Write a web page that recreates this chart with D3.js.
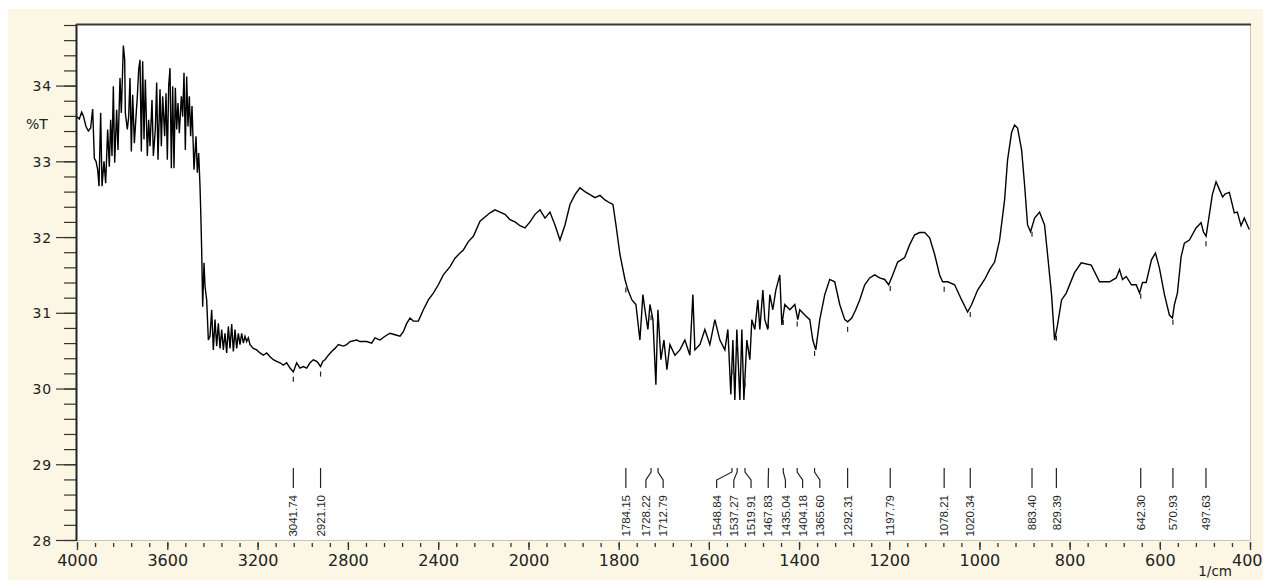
<!DOCTYPE html>
<html>
<head>
<meta charset="utf-8">
<script src="https://cdn.jsdelivr.net/npm/d3@7"></script>
<style>
  html, body { margin: 0; padding: 0; background: #ffffff; }
  svg { display: block; }
</style>
</head>
<body>
<svg id="chart" width="1263" height="580"></svg>
<script>
// ---- axis tick values ----
const xMajorTicks = [4000, 3600, 3200, 2800, 2400, 2000, 1800, 1600, 1400, 1200, 1000, 800, 600, 400];
const yMajorTicks = [28, 29, 30, 31, 32, 33, 34];

// ---- picked peaks (1/cm) ----
const peakWavenumbers = [3041.74, 2921.10, 1784.15, 1728.22, 1712.79, 1548.84, 1537.27, 1519.91,
  1467.83, 1435.04, 1404.18, 1365.60, 1292.31, 1197.79, 1078.21, 1020.34, 883.40, 829.39,
  642.30, 570.93, 497.63];

// ---- spectrum: [wavenumber (1/cm), transmittance (%T)] ----
const spectrumOH = [
  [4000, 33.59], [3989.7, 33.56], [3979.3, 33.65], [3971.9, 33.60], [3960.1, 33.46], [3949.8, 33.40],
  [3939.5, 33.44], [3930.6, 33.69], [3923.2, 33.04], [3915.8, 33.00], [3908.4, 32.89], [3902.5, 32.67],
  [3895.2, 33.64], [3889.2, 32.67], [3880.4, 33.00], [3873.0, 32.71], [3864.2, 33.42], [3856.8, 32.93],
  [3850.9, 33.55], [3845.0, 33.07], [3839.0, 33.99], [3833.1, 32.98], [3824.3, 33.68], [3818.4, 33.15],
  [3809.5, 34.10], [3803.6, 33.64], [3794.7, 34.53], [3788.8, 34.34], [3785.9, 33.64], [3777.0, 33.42],
  [3771.1, 33.59], [3765.2, 34.10], [3759.3, 33.13], [3753.4, 33.88], [3746.0, 33.24], [3738.6, 33.59],
  [3732.7, 33.86], [3726.8, 34.21], [3720.9, 34.34], [3715.0, 33.13], [3709.1, 34.32], [3703.2, 33.29],
  [3697.3, 34.08], [3688.4, 33.07], [3682.5, 33.55], [3676.6, 33.20], [3667.7, 33.81], [3661.8, 33.07],
  [3653.0, 33.42], [3647.1, 34.04], [3641.2, 33.02], [3632.3, 33.95], [3626.4, 33.20], [3620.5, 33.86],
  [3611.7, 33.33], [3605.7, 33.90], [3599.8, 33.02], [3593.9, 33.99], [3588.0, 34.23], [3582.1, 32.91],
  [3576.2, 33.99], [3570.3, 32.91], [3564.4, 33.97], [3558.5, 33.42], [3552.6, 33.77], [3546.7, 33.37],
  [3537.8, 33.86], [3531.9, 33.59], [3526.0, 34.17], [3520.1, 33.15], [3514.2, 34.12], [3508.3, 33.46],
  [3502.4, 33.86], [3496.5, 33.33], [3490.6, 33.73], [3481.7, 32.89], [3472.8, 33.33], [3466.9, 32.85],
  [3461.0, 33.11], [3455.1, 32.67], [3452.1, 32.36], [3447.7, 31.83], [3443.3, 31.08], [3437.4, 31.66],
  [3432.9, 31.35], [3425.6, 31.17], [3418.2, 30.64], [3410.8, 30.69], [3403.4, 31.04]
];

const spectrumCH = [
  [3396.1, 30.51], [3388.7, 30.91], [3381.3, 30.56], [3373.9, 30.86], [3366.5, 30.53], [3359.1, 30.78],
  [3351.7, 30.51], [3344.4, 30.73], [3337.0, 30.47], [3329.6, 30.82], [3322.2, 30.53], [3314.8, 30.85],
  [3307.4, 30.49], [3300.0, 30.78], [3292.7, 30.53], [3285.3, 30.73], [3277.9, 30.58], [3270.5, 30.73],
  [3263.1, 30.60], [3255.8, 30.69], [3248.5, 30.62], [3241.0, 30.67], [3233.6, 30.58], [3218.8, 30.53],
  [3204.1, 30.51], [3189.3, 30.47], [3174.5, 30.44], [3159.8, 30.47], [3145.0, 30.42], [3130.3, 30.38],
  [3115.5, 30.36], [3100.7, 30.34], [3086.0, 30.31], [3071.2, 30.34], [3056.4, 30.27], [3041.7, 30.22],
  [3026.9, 30.34], [3012.1, 30.27], [2997.4, 30.29], [2982.6, 30.27], [2967.8, 30.34], [2953.1, 30.38],
  [2938.3, 30.36], [2930.0, 30.33], [2921.1, 30.29], [2911.0, 30.36], [2901.4, 30.38], [2886.6, 30.44],
  [2871.8, 30.49], [2857.1, 30.53], [2842.3, 30.58], [2820.2, 30.56], [2805.4, 30.58], [2790.6, 30.62],
  [2761.1, 30.64], [2746.3, 30.62], [2716.8, 30.62], [2694.7, 30.60], [2679.9, 30.67], [2657.8, 30.64],
  [2635.6, 30.69], [2613.4, 30.73], [2591.3, 30.71], [2569.1, 30.69], [2554.4, 30.75], [2539.6, 30.86],
  [2524.8, 30.93], [2510.1, 30.89], [2487.9, 30.89], [2465.8, 31.04], [2443.6, 31.17], [2421.5, 31.26],
  [2399.3, 31.37], [2377.2, 31.50], [2347.6, 31.61], [2325.5, 31.72], [2303.3, 31.79], [2288.5, 31.83],
  [2266.4, 31.94], [2244.2, 32.01], [2214.8, 32.21], [2170.5, 32.32], [2148.4, 32.36], [2126.2, 32.33],
  [2104.1, 32.30], [2081.9, 32.23], [2059.8, 32.20], [2037.6, 32.15], [2015.5, 32.12]
];

const spectrumCarbonyl = [
  [1996.7, 32.20], [1985.6, 32.30], [1974.5, 32.36], [1963.4, 32.25], [1952.4, 32.33], [1941.3, 32.16],
  [1930.2, 31.96], [1919.1, 32.16], [1908.0, 32.43], [1896.9, 32.56], [1885.9, 32.65], [1874.8, 32.60],
  [1863.7, 32.56], [1852.6, 32.52], [1841.5, 32.55], [1830.5, 32.49], [1819.4, 32.45], [1812.7, 32.43],
  [1806.1, 32.16], [1797.2, 31.77], [1786.1, 31.44], [1779.5, 31.30], [1770.6, 31.17], [1761.8, 31.11],
  [1752.9, 30.64], [1746.3, 31.24], [1741.8, 31.04], [1735.2, 30.78], [1730.7, 31.11], [1724.1, 30.91],
  [1717.5, 30.05], [1713.0, 31.04], [1706.4, 30.38], [1699.7, 30.64], [1693.1, 30.25], [1686.4, 30.58],
  [1675.3, 30.44], [1664.3, 30.51], [1653.2, 30.64], [1642.1, 30.44], [1635.5, 31.24], [1631.0, 30.51],
  [1619.9, 30.58], [1608.9, 30.78], [1597.8, 30.58], [1586.7, 30.91], [1575.6, 30.64], [1564.5, 30.51],
  [1557.9, 30.78], [1551.3, 29.92], [1546.8, 30.64], [1542.4, 29.85], [1538.0, 30.78], [1531.3, 29.85],
  [1526.9, 30.78], [1522.4, 29.85], [1515.8, 30.64], [1509.1, 30.38], [1504.7, 30.91], [1498.1, 30.78],
  [1491.4, 31.17], [1487.0, 30.78], [1480.3, 31.30], [1475.9, 30.91], [1469.3, 30.78], [1464.8, 31.24],
  [1458.2, 31.04], [1451.5, 31.30], [1442.7, 31.50], [1438.2, 30.84], [1431.6, 31.11], [1420.5, 31.04],
  [1409.4, 31.11], [1402.8, 30.91], [1398.4, 31.04], [1387.3, 30.97], [1376.2, 30.91], [1369.6, 30.64],
  [1363.0, 30.51], [1354.1, 30.91], [1343.0, 31.24], [1332.0, 31.44], [1320.9, 31.41], [1309.8, 31.11],
  [1298.7, 30.91], [1292.1, 30.88], [1283.2, 30.93], [1274.4, 31.04], [1265.5, 31.17], [1254.4, 31.37],
  [1243.4, 31.46], [1232.3, 31.50], [1221.2, 31.46], [1210.1, 31.44], [1201.3, 31.37]
];

const spectrumFingerprint = [
  [1192.4, 31.50], [1181.3, 31.67], [1165.8, 31.73], [1154.7, 31.90], [1143.7, 32.03], [1132.6, 32.06],
  [1121.5, 32.06], [1110.4, 31.99], [1099.3, 31.77], [1088.3, 31.50], [1081.6, 31.41], [1070.5, 31.41],
  [1055.0, 31.37], [1039.5, 31.17], [1026.2, 31.01], [1017.3, 31.11], [1004.0, 31.30], [988.5, 31.44],
  [977.4, 31.57], [966.3, 31.67], [955.3, 31.96], [944.2, 32.49], [937.6, 33.02], [928.7, 33.38],
  [922.1, 33.48], [915.4, 33.44], [906.5, 33.15], [899.9, 32.69], [893.3, 32.16], [886.6, 32.07],
  [877.7, 32.25], [866.7, 32.33], [855.6, 32.16], [848.9, 31.77], [840.1, 31.24], [833.4, 30.64],
  [826.8, 30.84], [817.9, 31.17], [807.5, 31.26], [789.1, 31.53], [774.3, 31.66], [752.1, 31.63],
  [733.7, 31.41], [711.5, 31.41], [696.7, 31.46], [689.4, 31.57], [682.7, 31.44], [674.5, 31.48],
  [662.8, 31.37], [652.4, 31.37], [645.0, 31.26], [638.4, 31.40], [630.2, 31.40], [618.5, 31.70],
  [609.7, 31.79], [600.8, 31.59], [589.7, 31.24], [578.7, 30.97], [572.0, 30.93], [567.6, 31.11],
  [561.0, 31.26], [552.8, 31.74], [545.5, 31.92], [534.4, 31.96], [519.6, 32.12], [508.5, 32.19],
  [503.4, 32.07], [497.4, 32.01], [490.1, 32.30], [483.5, 32.56], [475.3, 32.73], [468.0, 32.63],
  [460.7, 32.53], [454.7, 32.57], [445.8, 32.59], [434.8, 32.32], [428.1, 32.33], [419.9, 32.15],
  [412.6, 32.25], [406.0, 32.16], [401.6, 32.10]
];

const spectrum = spectrumOH.concat(spectrumCH, spectrumCarbonyl, spectrumFingerprint);

// ---- layout ----
const svg = d3.select("#chart");
const panel = { left: 8, top: 9 };
const plot = { left: 77, right: 1250, top: 25, bottom: 540 };

// the abscissa is scaled x2 below 2000 1/cm, as on the instrument printout
const x = d3.scaleLinear().domain([4000, 2000, 400]).range([plot.left, 528.5, plot.right]);
const y = d3.scaleLinear().domain([28, 34.8]).range([plot.bottom, plot.top]);

const axisFont = "'DejaVu Sans', Verdana, sans-serif";
const peakFont = "'Liberation Sans', Arial, sans-serif";

// cream panel + white plotting area
svg.append("rect").attr("x", panel.left).attr("y", panel.top)
  .attr("width", 1263 - panel.left).attr("height", 580 - panel.top).attr("fill", "#fcf6e4");
svg.append("rect").attr("x", plot.left).attr("y", plot.top)
  .attr("width", plot.right - plot.left).attr("height", plot.bottom - plot.top).attr("fill", "#ffffff");

// light frame on the right / bottom
svg.append("path")
  .attr("d", `M${plot.right + 0.5},${plot.top} V${plot.bottom + 0.5} H${plot.left}`)
  .attr("fill", "none").attr("stroke", "#c9c6c0").attr("stroke-width", 1);

// ---- x axis ----
const xMinor = d3.range(4000, 2000, -80).concat(d3.range(2000, 399, -40));
const gxMinor = svg.append("g").attr("transform", `translate(0,${plot.bottom + 3})`)
  .call(d3.axisBottom(x).tickValues(xMinor).tickSize(4).tickFormat(""));
const gxMajor = svg.append("g").attr("transform", `translate(0,${plot.bottom + 2})`)
  .call(d3.axisBottom(x).tickValues(xMajorTicks).tickSize(8).tickFormat(d3.format("d")));
[gxMinor, gxMajor].forEach(g => {
  g.select(".domain").remove();
  g.selectAll(".tick line").attr("stroke", "#333").attr("stroke-width", 1.3);
});
gxMajor.selectAll(".tick text")
  .attr("y", 24).attr("dy", 0)
  .attr("font-family", axisFont).attr("font-size", 16).attr("fill", "#222");
// the last label sits against the right edge of the panel
gxMajor.selectAll(".tick text").filter(d => d === 400)
  .attr("text-anchor", "end").attr("x", 1262 - x(400));

// unit caption, tucked under and left of the last tick label
svg.append("text").attr("x", 1232).attr("y", 576).attr("text-anchor", "end")
  .attr("font-family", axisFont).attr("font-size", 13.5).attr("fill", "#222").text("1/cm");

// ---- y axis ----
const yMinor = d3.range(0, 35).map(i => 28 + i * 0.2);
const gyMinor = svg.append("g").attr("transform", `translate(${plot.left - 1},0)`)
  .call(d3.axisLeft(y).tickValues(yMinor).tickSize(12).tickFormat(""));
const gyMajor = svg.append("g").attr("transform", `translate(${plot.left - 1},0)`)
  .call(d3.axisLeft(y).tickValues(yMajorTicks).tickSize(20).tickFormat(d3.format("d")));
[gyMinor, gyMajor].forEach(g => {
  g.select(".domain").remove();
  g.selectAll(".tick line").attr("stroke", "#333").attr("stroke-width", 1.2);
});
gyMajor.selectAll(".tick text")
  .attr("x", -24).attr("dy", "0.36em")
  .attr("font-family", axisFont).attr("font-size", 14).attr("letter-spacing", 0.8).attr("fill", "#222");

svg.append("text").attr("x", 26).attr("y", 124).attr("dy", "0.36em")
  .attr("font-family", axisFont).attr("font-size", 14).attr("fill", "#222").text("%T");

// dark frame: left axis and top edge
svg.append("line").attr("x1", plot.left - 0.5).attr("x2", plot.left - 0.5)
  .attr("y1", plot.top - 1).attr("y2", plot.bottom + 1).attr("stroke", "#222").attr("stroke-width", 2);
svg.append("line").attr("x1", plot.left - 1).attr("x2", plot.right + 1)
  .attr("y1", plot.top - 0.5).attr("y2", plot.top - 0.5).attr("stroke", "#3a3a3a").attr("stroke-width", 2);

// ---- spectrum trace ----
svg.append("path")
  .datum(spectrum)
  .attr("fill", "none").attr("stroke", "#000").attr("stroke-width", 1.4)
  .attr("stroke-linejoin", "miter")
  .attr("d", d3.line().x(d => x(d[0])).y(d => y(d[1])));

// %T of the trace at a given wavenumber (linear interpolation)
const byWave = spectrum.slice().sort((a, b) => a[0] - b[0]);
const bis = d3.bisector(d => d[0]).left;
function transmittanceAt(wn) {
  const i = Math.max(1, Math.min(byWave.length - 1, bis(byWave, wn)));
  const a = byWave[i - 1], b = byWave[i];
  const t = (wn - a[0]) / (b[0] - a[0]);
  return a[1] + (b[1] - a[1]) * t;
}

// small marks just under each picked peak
svg.append("g").selectAll("line").data(peakWavenumbers).join("line")
  .attr("x1", d => x(d)).attr("x2", d => x(d))
  .attr("y1", d => y(transmittanceAt(d)) + 5)
  .attr("y2", d => y(transmittanceAt(d)) + 10)
  .attr("stroke", "#222").attr("stroke-width", 1.2);

// ---- peak labels: spread crowded labels apart, keeping each cluster centred ----
const labelGap = 17.2;
const peaks = peakWavenumbers.map(wn => ({ wn, px: x(wn) })).sort((a, b) => a.px - b.px);
const groups = [];
peaks.forEach(p => {
  groups.push({ items: [p], sum: p.px, start: p.px });
  while (groups.length > 1) {
    const g = groups[groups.length - 1], prev = groups[groups.length - 2];
    const prevEnd = prev.start + (prev.items.length - 1) * labelGap;
    if (g.start < prevEnd + labelGap) {
      const items = prev.items.concat(g.items);
      const sum = prev.sum + g.sum;
      const mean = sum / items.length;
      groups.splice(-2, 2, { items, sum, start: mean - (items.length - 1) * labelGap / 2 });
    } else break;
  }
});
groups.forEach(g => g.items.forEach((p, i) => { p.lx = g.start + i * labelGap; }));

const gPeaks = svg.append("g");
gPeaks.selectAll("polyline").data(peaks).join("polyline")
  .attr("points", d => [[d.px, 468], [d.px, 472], [d.lx, 480], [d.lx, 488]].map(p => p.join(",")).join(" "))
  .attr("fill", "none").attr("stroke", "#222").attr("stroke-width", 1.2);
gPeaks.selectAll("text").data(peaks).join("text")
  .attr("transform", d => `translate(${d.lx},495) rotate(-90)`)
  .attr("text-anchor", "end").attr("dy", "0.36em")
  .attr("font-family", peakFont).attr("font-size", 11.5).attr("fill", "#222")
  .text(d => d.wn.toFixed(2));
</script>
</body>
</html>
